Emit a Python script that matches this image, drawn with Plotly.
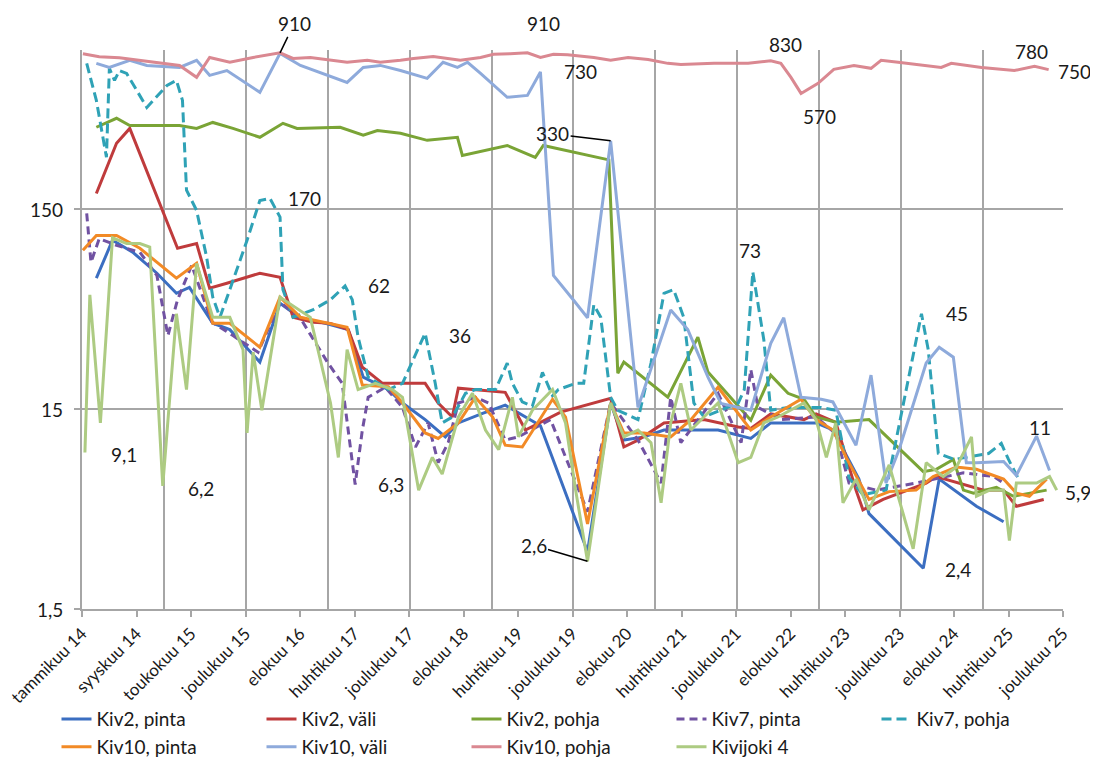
import math
import datetime
import plotly.graph_objects as go

# --- data (values in chart units, log scale) ---

x_tick_labels = ["tammikuu 14", "syyskuu 14", "toukokuu 15", "joulukuu 15", "elokuu 16",
                 "huhtikuu 17", "joulukuu 17", "elokuu 18", "huhtikuu 19", "joulukuu 19",
                 "elokuu 20", "huhtikuu 21", "joulukuu 21", "elokuu 22", "huhtikuu 23",
                 "joulukuu 23", "elokuu 24", "huhtikuu 25", "joulukuu 25"]
y_tick_vals = [1.5, 15, 150]
y_tick_text = ["1,5", "15", "150"]

kiv2_pinta_x = ["2014-03-06", "2014-05-17", "2014-08-15", "2014-12-01", "2015-02-26", "2015-04-25",
                "2015-08-07", "2015-10-22", "2016-03-04", "2016-06-02", "2016-09-01", "2016-12-21",
                "2017-04-02", "2017-06-08", "2017-09-28", "2017-11-30", "2018-03-11", "2018-06-09",
                "2018-08-06", "2018-11-22", "2019-03-03", "2019-08-07", "2020-03-04", "2020-06-15",
                "2020-08-13", "2020-11-11", "2021-02-08", "2021-06-08", "2021-10-07", "2022-03-02",
                "2022-05-30", "2022-10-25", "2022-12-18", "2023-03-03", "2023-06-27", "2023-08-11",
                "2024-04-09", "2024-06-19", "2024-12-02", "2025-04-02"]
kiv2_pinta_y = [67.8, 105, 91.5, 71.8, 57, 61,
                40.4, 37.5, 25.8, 50.8, 42.8, 40.3,
                37.5, 21.7, 18.8, 16.1, 13.3, 10.9,
                12.8, 14.3, 15.7, 12.4, 2.9, 16.1,
                10.5, 10.9, 11.8, 11.8, 11.8, 10.7,
                12.8, 12.8, 12.8, 11.8, 6.7, 4.5,
                2.4, 6.7, 4.9, 4.1]

kiv2_vali_x = ["2014-03-06", "2014-06-04", "2014-08-02", "2015-03-03", "2015-05-27", "2015-07-24",
               "2015-10-09", "2016-03-04", "2016-06-02", "2016-07-30", "2016-10-28", "2017-01-13",
               "2017-04-02", "2017-06-04", "2017-09-02", "2018-03-11", "2018-05-08", "2018-07-10",
               "2018-08-06", "2019-03-03", "2019-06-01", "2019-11-05", "2020-06-15", "2020-08-13",
               "2020-10-15", "2021-02-08", "2021-08-05", "2022-01-05", "2022-03-02", "2022-05-30",
               "2022-10-25", "2022-12-18", "2023-03-16", "2023-06-14", "2023-07-15", "2023-10-13",
               "2024-04-22", "2024-06-06", "2025-01-03", "2025-04-02", "2025-05-29", "2025-09-28"]
kiv2_vali_y = [180, 321, 381, 95.7, 101, 60.4,
               64, 71.8, 68.6, 43.2, 40.8, 40.3,
               37.5, 24.3, 20.2, 20.2, 16.1, 13.7,
               19.1, 18.2, 11.8, 14.5, 17, 9.7,
               10.5, 12.8, 13.3, 12.2, 12, 14.2,
               13.3, 14.2, 12.9, 5.9, 4.7, 5.3,
               6.4, 6.9, 5.9, 5.9, 4.9, 5.3]

kiv2_pohja_x = ["2014-03-06", "2014-06-04", "2014-08-02", "2015-03-12", "2015-05-27", "2015-08-07",
                "2015-11-05", "2016-03-04", "2016-06-15", "2016-08-17", "2017-02-25", "2017-06-08",
                "2017-08-10", "2017-11-21", "2018-03-20", "2018-08-02", "2018-08-24", "2019-03-12",
                "2019-07-15", "2019-08-20", "2020-06-07", "2020-07-17", "2020-08-13", "2021-02-25",
                "2021-07-09", "2021-08-23", "2022-03-02", "2022-05-30", "2022-08-15", "2022-10-25",
                "2022-12-18", "2023-03-16", "2023-08-11", "2024-04-09", "2024-06-06", "2024-08-21",
                "2024-10-05", "2024-11-19", "2025-03-01", "2025-05-16", "2025-10-11"]
kiv2_pohja_y = [386, 428, 394, 394, 381, 408,
                381, 344, 404, 381, 386, 352,
                372, 360, 332, 344, 279, 313,
                273, 313, 265, 22.7, 25.8, 17.2,
                34.4, 23, 13.2, 22.2, 18, 16.8,
                13.7, 12.9, 13.3, 7.3, 7.5, 8.4,
                5.9, 5.7, 6.1, 5.5, 5.9]

kiv7_pinta_x = ["2014-01-22", "2014-02-10", "2014-03-19", "2014-06-04", "2014-09-16", "2014-12-01",
                "2015-01-19", "2015-03-03", "2015-05-05", "2015-08-03", "2015-11-05", "2016-02-25",
                "2016-06-02", "2016-09-01", "2016-12-30", "2017-03-06", "2017-05-03", "2017-06-04",
                "2017-06-30", "2017-09-15", "2017-11-30", "2018-01-27", "2018-03-24", "2018-05-08",
                "2018-06-22", "2018-08-06", "2018-10-21", "2018-12-19", "2019-03-03", "2019-05-01",
                "2019-09-21", "2020-03-04", "2020-06-15", "2020-10-15", "2021-01-26", "2021-03-10",
                "2021-04-24", "2021-10-07", "2022-01-18", "2022-03-02", "2022-04-03", "2022-07-14",
                "2022-12-18", "2023-03-16", "2023-05-14", "2023-09-12", "2024-03-08", "2024-10-05",
                "2025-02-17", "2025-04-02"]
kiv7_pinta_y = [143, 81.5, 107, 99, 91.5, 70,
                35, 52.9, 78.7, 41, 35, 28.9,
                51.4, 42.7, 25.8, 20.2, 6.3, 11.8,
                17.2, 19.3, 15.3, 9.7, 12.8, 8.1,
                10.2, 16.1, 17.2, 16.1, 10.5, 10.9,
                13.3, 4.6, 16.1, 10.5, 6.4, 17.2,
                10.2, 18, 10.2, 23.7, 15.3, 13.3,
                13.7, 11.3, 6.4, 5.9, 6.4, 7.2,
                6.9, 6.4]

kiv7_pohja_x = ["2014-01-22", "2014-03-06", "2014-04-20", "2014-05-03", "2014-05-26", "2014-06-17",
                "2014-07-19", "2014-10-17", "2015-01-15", "2015-02-26", "2015-03-25", "2015-04-12",
                "2015-05-27", "2015-07-11", "2015-08-07", "2015-09-08", "2015-10-22", "2016-01-07",
                "2016-03-04", "2016-04-18", "2016-06-02", "2016-06-15", "2016-07-30", "2016-10-28",
                "2017-01-13", "2017-03-19", "2017-04-20", "2017-05-16", "2017-06-30", "2017-09-28",
                "2017-11-30", "2018-03-11", "2018-04-25", "2018-05-26", "2018-07-10", "2018-09-07",
                "2018-10-21", "2019-01-19", "2019-03-12", "2019-04-04", "2019-05-18", "2019-07-02",
                "2019-08-16", "2019-09-30", "2019-10-26", "2020-01-11", "2020-02-16", "2020-04-01",
                "2020-05-02", "2020-06-15", "2020-07-17", "2020-10-15", "2020-12-12", "2021-02-08",
                "2021-03-23", "2021-05-07", "2021-06-21", "2021-08-05", "2022-01-05", "2022-02-01",
                "2022-03-11", "2022-04-29", "2022-05-30", "2022-08-15", "2023-01-10", "2023-03-16",
                "2023-05-14", "2023-07-15", "2023-10-26", "2024-01-15", "2024-04-01", "2024-05-01",
                "2024-06-15", "2024-08-25", "2025-01-25", "2025-03-23", "2025-04-24", "2025-06-08"]
kiv7_pohja_y = [806, 526, 273, 761, 662, 742,
                718, 485, 625, 662, 526, 187,
                148, 86, 54.5, 43.2, 59.4, 105,
                166, 170, 137, 59.4, 43.2, 47.2,
                52.9, 62, 52.9, 34.4, 21.7, 18.8,
                20.2, 36, 20.2, 12.8, 13.7, 18,
                18.8, 18.8, 25.5, 20.2, 16.3, 15.5,
                22.9, 17.5, 18.8, 20.2, 20.2, 49.9,
                43.2, 17.2, 14.8, 13.3, 25.5, 57,
                59.4, 43.2, 16.1, 13.7, 16.1, 18.8,
                73, 33.4, 14.8, 15.3, 15.3, 14.8,
                6.8, 5.6, 5.9, 16.8, 45, 29.8,
                9.0, 8.4, 9.0, 10.1, 8.4, 6.7]

kiv10_pinta_x = ["2014-01-05", "2014-03-06", "2014-06-04", "2014-09-16", "2015-02-26", "2015-05-27",
                 "2015-08-07", "2015-10-22", "2016-03-04", "2016-06-02", "2016-09-01", "2017-01-13",
                 "2017-03-28", "2017-06-04", "2017-09-28", "2017-11-30", "2018-03-11", "2018-05-08",
                 "2018-08-06", "2018-10-21", "2019-01-06", "2019-03-03", "2019-05-18", "2019-09-30",
                 "2019-11-27", "2020-03-04", "2020-06-15", "2020-08-13", "2020-11-11", "2021-03-10",
                 "2021-06-08", "2021-10-07", "2022-03-02", "2022-05-30", "2022-10-12", "2022-12-18",
                 "2023-03-03", "2023-05-01", "2023-08-11", "2023-11-09", "2024-03-08", "2024-05-23",
                 "2024-09-04", "2024-12-02", "2025-04-02", "2025-05-29", "2025-07-26", "2025-10-11"]
kiv10_pinta_y = [93.6, 111, 111, 95.7, 67.8, 80.5,
                 40.3, 40.3, 30.6, 54.5, 43.2, 40.3,
                 38.5, 19.8, 19.4, 16.1, 11.4, 10.7,
                 12.8, 17.2, 13.7, 9.9, 9.7, 16.8,
                 13.7, 4.0, 16.1, 11.4, 11.4, 10.9,
                 13.3, 19.3, 11.8, 13.7, 16.8, 13.3,
                 11.8, 8.6, 5.3, 5.8, 5.9, 6.9,
                 7.7, 7.5, 6.7, 5.7, 5.5, 6.7]

kiv10_vali_x = ["2014-03-06", "2014-05-03", "2014-08-02", "2014-10-17", "2015-03-12", "2015-05-27",
                "2015-07-24", "2015-10-09", "2016-03-04", "2016-06-02", "2016-09-01", "2016-11-28",
                "2017-03-28", "2017-06-08", "2017-08-23", "2017-11-21", "2018-03-20", "2018-05-30",
                "2018-08-02", "2018-09-16", "2018-11-13", "2019-03-12", "2019-06-10", "2019-08-07",
                "2019-10-04", "2020-01-02", "2020-03-04", "2020-06-15", "2020-10-15", "2021-03-10",
                "2021-05-25", "2021-08-23", "2021-10-20", "2022-03-02", "2022-05-30", "2022-07-27",
                "2022-10-12", "2023-01-10", "2023-03-03", "2023-06-14", "2023-08-20", "2023-10-26",
                "2023-12-23", "2024-04-22", "2024-06-19", "2024-08-21", "2024-10-18", "2024-12-02",
                "2025-04-02", "2025-05-29", "2025-08-27", "2025-10-24"]
kiv10_vali_y = [806, 769, 835, 787, 769, 835,
                702, 742, 577, 904, 787, 726,
                647, 769, 787, 742, 678, 816,
                769, 816, 718, 545, 557, 730,
                70, 52.6, 43, 330, 15.3, 47,
                37.5, 21.7, 16, 14.8, 32, 43,
                17.2, 16.8, 16.3, 9.9, 22.2, 6.4,
                9.4, 25.5, 30.6, 27.3, 8.1, 8.1,
                8.2, 7.0, 11, 7.4]

kiv10_pohja_x = ["2014-01-05", "2014-03-19", "2014-06-17", "2014-09-16", "2014-12-14", "2015-03-12",
                 "2015-05-27", "2015-07-24", "2015-10-22", "2016-02-03", "2016-06-02", "2016-07-30",
                 "2016-10-15", "2017-01-13", "2017-03-28", "2017-06-26", "2017-08-23", "2017-11-21",
                 "2018-01-18", "2018-04-16", "2018-08-15", "2018-11-13", "2019-01-10", "2019-03-25",
                 "2019-06-10", "2019-08-07", "2019-10-04", "2019-12-06", "2020-04-01", "2020-06-15",
                 "2020-09-01", "2020-11-29", "2021-02-25", "2021-04-24", "2021-09-19", "2022-02-18",
                 "2022-05-30", "2022-07-14", "2022-08-28", "2022-10-12", "2022-12-27", "2023-03-07",
                 "2023-06-05", "2023-08-20", "2023-10-04", "2023-12-19", "2024-04-01", "2024-06-28",
                 "2024-08-12", "2024-12-25", "2025-05-20", "2025-08-18", "2025-10-20"]
kiv10_pohja_y = [900, 870, 860, 835, 816, 787,
                 686, 863, 816, 863, 910, 853,
                 863, 835, 816, 835, 816, 835,
                 853, 872, 835, 863, 895, 900,
                 910, 863, 895, 890, 863, 835,
                 863, 843, 806, 796, 806, 806,
                 830, 806, 686, 570, 640, 752,
                 787, 761, 835, 816, 787, 769,
                 806, 769, 742, 780, 750]

kivijoki4_x = ["2014-01-14", "2014-02-05", "2014-03-24", "2014-05-17", "2014-07-19", "2014-09-16",
               "2014-10-30", "2014-12-27", "2015-02-26", "2015-04-12", "2015-05-27", "2015-08-07",
               "2015-10-22", "2015-12-20", "2016-01-07", "2016-02-03", "2016-03-13", "2016-06-02",
               "2016-10-15", "2017-01-13", "2017-02-17", "2017-03-28", "2017-05-16", "2017-08-01",
               "2017-10-16", "2017-11-30", "2018-02-10", "2018-04-12", "2018-05-26", "2018-08-06",
               "2018-10-08", "2018-12-05", "2019-02-02", "2019-04-04", "2019-05-01", "2019-07-02",
               "2019-09-30", "2019-11-27", "2020-01-11", "2020-03-04", "2020-06-15", "2020-08-13",
               "2020-10-15", "2020-12-12", "2021-01-26", "2021-03-10", "2021-04-24", "2021-06-08",
               "2021-08-05", "2021-10-07", "2022-01-05", "2022-03-02", "2022-04-29", "2022-07-01",
               "2022-10-25", "2022-12-18", "2023-02-02", "2023-03-16", "2023-04-17", "2023-06-14",
               "2023-08-11", "2023-11-09", "2024-02-24", "2024-04-22", "2024-07-07", "2024-09-04",
               "2024-11-10", "2024-12-02", "2025-01-30", "2025-04-02", "2025-04-28", "2025-05-29",
               "2025-08-27", "2025-10-24", "2025-11-25"]
kivijoki4_y = [9.1, 56, 12.8, 108, 101, 101,
               97, 6.2, 45, 18.8, 80.5, 43.2,
               43.2, 29.8, 11.4, 28.9, 14.8, 54.5,
               43.2, 16.1, 8.6, 29.8, 18.8, 20.2,
               18.8, 17.2, 5.9, 8.6, 7.1, 13.7,
               18, 11.8, 9.4, 17.2, 10.9, 14.8,
               18.8, 12.8, 5.9, 2.6, 16.1, 10.9,
               11.8, 10.2, 5.1, 12.8, 20.2, 11.8,
               13.7, 16.1, 8.1, 8.6, 12.8, 13.7,
               16.1, 13.3, 8.6, 12.8, 5.1, 6.7,
               4.7, 7.9, 3.0, 8.1, 6.9, 7.7,
               10.9, 5.5, 5.9, 5.9, 3.3, 6.4,
               6.4, 6.9, 5.9]

# data labels shown on the chart: (text, date, value)
labels_plain = [("910", "2019-06-10", 910), ("730", "2019-08-07", 730), ("830", "2022-05-30", 830),
                ("570", "2022-10-12", 570), ("780", "2025-08-18", 780), ("750", "2025-10-20", 750),
                ("170", "2016-04-18", 170), ("62", "2017-03-19", 62), ("36", "2018-03-11", 36),
                ("73", "2022-03-11", 73), ("45", "2024-04-01", 45), ("9,1", "2014-01-14", 9.1),
                ("6,2", "2014-12-27", 6.2), ("6,3", "2017-05-03", 6.3), ("2,4", "2024-04-09", 2.4),
                ("11", "2025-08-27", 11), ("5,9", "2025-11-25", 5.9)]
labels_leader = [("910", "2016-06-02", 910), ("330", "2020-06-15", 330), ("2,6", "2020-03-04", 2.6)]

# --- figure ---
series = [
    ("Kiv2, pinta", kiv2_pinta_x, kiv2_pinta_y, "#3B6EC1", "solid"),
    ("Kiv2, väli", kiv2_vali_x, kiv2_vali_y, "#BF3B3C", "solid"),
    ("Kiv2, pohja", kiv2_pohja_x, kiv2_pohja_y, "#7AA436", "solid"),
    ("Kiv7, pinta", kiv7_pinta_x, kiv7_pinta_y, "#7152A2", "8px,5px"),
    ("Kiv7, pohja", kiv7_pohja_x, kiv7_pohja_y, "#2FA2B6", "10px,5px"),
    ("Kiv10, pinta", kiv10_pinta_x, kiv10_pinta_y, "#F28A26", "solid"),
    ("Kiv10, väli", kiv10_vali_x, kiv10_vali_y, "#8EAADB", "solid"),
    ("Kiv10, pohja", kiv10_pohja_x, kiv10_pohja_y, "#DA8891", "solid"),
    ("Kivijoki 4", kivijoki4_x, kivijoki4_y, "#ADCB82", "solid"),
]

fig = go.Figure()
for name, xs, ys, color, dash in series:
    assert len(xs) == len(ys), name
    fig.add_trace(go.Scatter(x=xs, y=ys, name=name, mode="lines",
                             line=dict(color=color, width=3, dash=dash)))

font_family = "Lato, 'Open Sans', Arial, sans-serif"
text_col = "#1a1a1a"

# offsets (px) of each label from its point
plain_offsets = [(16, 29), (40, 0), (15, 16), (18, -23), (-3, 15), (26, -2), (35, 0), (34, 0),
                 (35, -2), (-3, 21), (36, 0), (39, -2), (38, -3), (36, 0), (35, -1), (3, 9), (21, -2)]
for (txt, d, v), (dx, dy) in zip(labels_plain, plain_offsets):
    fig.add_annotation(x=d, y=math.log10(v), text=txt, showarrow=False, xshift=dx, yshift=dy,
                       font=dict(size=19, color=text_col, family=font_family))

leader_offsets = [(14, -29), (-58, -7), (-54, -16)]
for (txt, d, v), (ax, ay) in zip(labels_leader, leader_offsets):
    fig.add_annotation(x=d, y=math.log10(v), text=txt, showarrow=True, arrowhead=0,
                       arrowwidth=1.5, arrowcolor="black", ax=ax, ay=ay, standoff=0,
                       font=dict(size=19, color=text_col, family=font_family))

# y tick labels, right-aligned a fixed distance left of the axis
for v, t in zip(y_tick_vals, y_tick_text):
    fig.add_annotation(xref="paper", x=0, y=math.log10(v), text=t, showarrow=False,
                       xanchor="right", xshift=-17,
                       font=dict(size=19, color=text_col, family=font_family))

start = datetime.date(2014, 1, 1)
tick_vals = [(start + datetime.timedelta(days=243 * i)).isoformat() for i in range(len(x_tick_labels))]

grid_col = "#A6A6A6"
fig.update_xaxes(type="date", range=[start.isoformat(), tick_vals[-1]], automargin=False,
                 tickvals=tick_vals, ticktext=x_tick_labels, tickangle=-45,
                 ticklabeloverflow="allow",
                 ticks="outside", ticklen=6, tickwidth=1.5, tickcolor=grid_col,
                 showgrid=False, showline=True, linecolor=grid_col, linewidth=2,
                 tickfont=dict(size=17, color=text_col, family=font_family),
                 minor=dict(dtick="M12", tick0="2014-01-01", showgrid=True,
                            gridcolor=grid_col, gridwidth=2, ticks=""))
fig.update_yaxes(type="log", range=[math.log10(1.5), math.log10(940)], automargin=False,
                 tickvals=y_tick_vals, showticklabels=False,
                 ticks="outside", ticklen=6, tickwidth=1.5, tickcolor=grid_col,
                 showgrid=True, gridcolor=grid_col, gridwidth=2,
                 showline=True, linecolor=grid_col, linewidth=2)

# the page puts the figure 8px in from the top-left corner
fig.update_layout(
    width=1090, height=750,
    margin=dict(l=74, r=35, t=42, b=149, autoexpand=False),
    paper_bgcolor="white", plot_bgcolor="white",
    font=dict(family=font_family, color=text_col),
    showlegend=True,
    legend=dict(orientation="h", x=-0.026, xanchor="left", y=-0.163, yanchor="top",
                entrywidth=160, font=dict(size=19, family=font_family),
                traceorder="normal", bgcolor="rgba(0,0,0,0)"),
)

fig.write_html("out.html")
